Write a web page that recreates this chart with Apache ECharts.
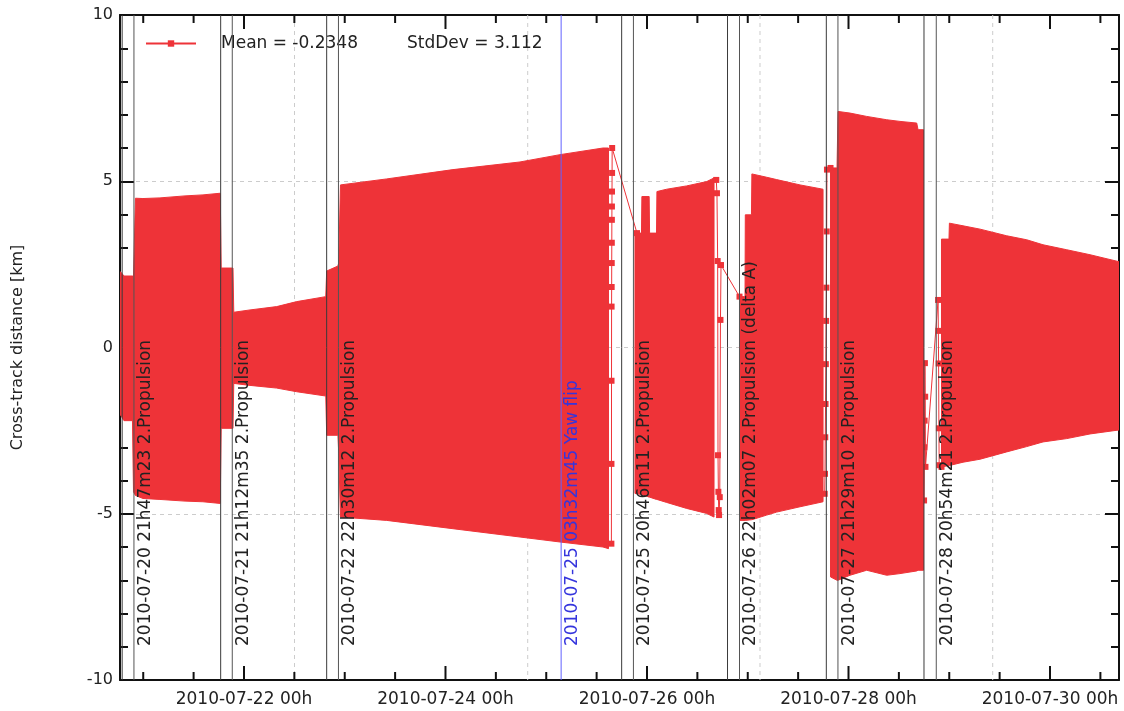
<!DOCTYPE html>
<html>
<head>
<meta charset="utf-8">
<title>Cross-track distance</title>
<script src="https://cdn.jsdelivr.net/npm/echarts@6/dist/echarts.min.js"></script>
<style>
  html, body { margin: 0; padding: 0; background: #ffffff; }
  #chart { width: 1124px; height: 711px; }
</style>
</head>
<body>
<div id="chart"></div>
<script>
// ---- data -----------------------------------------------------------------
const xRange = ['2010-07-20 18:28', '2010-07-30 16:26'];
const yRange = [-10, 10];
const yAxisName = 'Cross-track distance [km]';
const seriesName = 'Cross-track distance';
const meanValue = '-0.2348';
const stdDevValue = '3.112';

// Time axis ticks: labelled every two days, small ticks every 12 hours
const xMajorTicks = ['2010-07-22 00:00', '2010-07-24 00:00', '2010-07-26 00:00', '2010-07-28 00:00', '2010-07-30 00:00'];
const xMinorTicks = [
  '2010-07-21 00:00', '2010-07-21 12:00', '2010-07-22 12:00', '2010-07-23 00:00', '2010-07-23 12:00',
  '2010-07-24 12:00', '2010-07-25 00:00', '2010-07-25 12:00', '2010-07-26 12:00', '2010-07-27 00:00',
  '2010-07-27 12:00', '2010-07-28 12:00', '2010-07-29 00:00', '2010-07-29 12:00', '2010-07-30 12:00'
];

// Envelope of the densely sampled orbit oscillation: [time, upper km, lower km]
const arcJul20to25 = [
  ['2010-07-20 18:35', 2.28, -2.03], ['2010-07-20 19:25', 2.15, -2.20],
  ['2010-07-20 21:26', 2.15, -2.20], ['2010-07-20 21:41', 2.15, -4.34],
  ['2010-07-20 22:09', 4.49, -4.45], ['2010-07-20 23:56', 4.48, -4.54],
  ['2010-07-21 03:59', 4.50, -4.57], ['2010-07-21 09:57', 4.56, -4.62],
  ['2010-07-21 14:14', 4.59, -4.64], ['2010-07-21 18:21', 4.64, -4.69],
  ['2010-07-21 18:34', 2.39, -2.43], ['2010-07-21 21:23', 2.39, -2.43],
  ['2010-07-21 21:34', 1.06, -1.08], ['2010-07-22 01:26', 1.13, -1.14],
  ['2010-07-22 07:47', 1.23, -1.22], ['2010-07-22 12:33', 1.38, -1.33],
  ['2010-07-22 19:29', 1.53, -1.46], ['2010-07-22 19:42', 2.30, -2.64],
  ['2010-07-22 22:23', 2.45, -2.64], ['2010-07-22 22:34', 2.55, -3.18],
  ['2010-07-22 22:59', 4.89, -5.10], ['2010-07-23 09:59', 5.07, -5.20],
  ['2010-07-24 01:47', 5.35, -5.45], ['2010-07-24 17:45', 5.58, -5.70],
  ['2010-07-25 03:17', 5.80, -5.85], ['2010-07-25 13:31', 6.00, -6.00],
  ['2010-07-25 14:50', 6.00, -6.05]
];
const arcJul25to26 = [
  ['2010-07-25 21:08', 3.44, -4.39], ['2010-07-25 22:41', 3.44, -4.42],
  ['2010-07-25 22:47', 4.54, -4.42], ['2010-07-26 00:31', 4.54, -4.50],
  ['2010-07-26 00:37', 3.44, -4.50], ['2010-07-26 02:16', 3.44, -4.57],
  ['2010-07-26 02:22', 4.69, -4.57], ['2010-07-26 04:41', 4.76, -4.66],
  ['2010-07-26 09:27', 4.86, -4.84], ['2010-07-26 14:13', 4.99, -4.99],
  ['2010-07-26 15:58', 5.10, -5.10]
];
const arcJul26to27 = [
  ['2010-07-26 22:02', 1.53, -5.20], ['2010-07-26 23:21', 1.53, -5.20],
  ['2010-07-26 23:25', 3.99, -5.20], ['2010-07-27 00:53', 3.99, -5.18],
  ['2010-07-27 00:59', 5.22, -5.18], ['2010-07-27 04:31', 5.12, -5.04],
  ['2010-07-27 06:53', 5.05, -4.95], ['2010-07-27 12:27', 4.89, -4.79],
  ['2010-07-27 17:56', 4.76, -4.64]
];
const arcJul27to28 = [
  ['2010-07-27 19:43', 5.40, -6.90], ['2010-07-27 21:16', 5.40, -7.00],
  ['2010-07-27 21:30', 7.10, -7.00], ['2010-07-28 00:22', 7.05, -6.85],
  ['2010-07-28 04:20', 6.95, -6.70], ['2010-07-28 09:06', 6.85, -6.85],
  ['2010-07-28 12:16', 6.80, -6.80], ['2010-07-28 16:15', 6.75, -6.72],
  ['2010-07-28 16:34', 6.55, -6.70], ['2010-07-28 17:52', 6.55, -6.70]
];
const arcJul28to30 = [
  ['2010-07-28 22:09', 3.26, -3.59], ['2010-07-28 23:56', 3.26, -3.55],
  ['2010-07-29 00:02', 3.74, -3.55], ['2010-07-29 03:17', 3.66, -3.45],
  ['2010-07-29 07:20', 3.56, -3.36], ['2010-07-29 13:41', 3.36, -3.14],
  ['2010-07-29 18:27', 3.24, -2.98], ['2010-07-29 22:20', 3.09, -2.84],
  ['2010-07-30 03:59', 2.94, -2.74], ['2010-07-30 09:32', 2.79, -2.60],
  ['2010-07-30 16:26', 2.58, -2.48]
];
const bandArcs = [arcJul20to25, arcJul25to26, arcJul26to27, arcJul27to28, arcJul28to30];

// Sparse samples around the manoeuvres: [time, km]
const sparseJul25 = [
  ['2010-07-25 15:31', -5.9], ['2010-07-25 15:32', -3.5], ['2010-07-25 15:33', -1.0],
  ['2010-07-25 15:34', 1.23], ['2010-07-25 15:35', 1.82], ['2010-07-25 15:36', 2.54],
  ['2010-07-25 15:37', 3.15], ['2010-07-25 15:38', 3.84], ['2010-07-25 15:39', 4.24],
  ['2010-07-25 15:40', 4.69], ['2010-07-25 15:41', 5.25], ['2010-07-25 15:42', 6.0],
  ['2010-07-25 21:37', 3.44]
];
const sparseJul26 = [
  ['2010-07-26 16:30', 5.04], ['2010-07-26 16:40', 4.64], ['2010-07-26 16:50', 2.6],
  ['2010-07-26 16:55', -3.24], ['2010-07-26 17:00', -4.34], ['2010-07-26 17:05', -4.89],
  ['2010-07-26 17:10', -5.04], ['2010-07-26 17:20', -4.5], ['2010-07-26 17:30', 0.83],
  ['2010-07-26 17:38', 2.48], ['2010-07-26 22:02', 1.53]
];
const sparseJul27 = [
  ['2010-07-27 18:20', -4.4], ['2010-07-27 18:24', -3.8], ['2010-07-27 18:28', -2.7],
  ['2010-07-27 18:32', -1.7], ['2010-07-27 18:36', -0.5], ['2010-07-27 18:40', 0.8],
  ['2010-07-27 18:44', 1.8], ['2010-07-27 18:48', 3.49], ['2010-07-27 18:52', 5.35],
  ['2010-07-27 19:43', 5.4]
];
const sparseJul28 = [
  ['2010-07-28 18:00', -4.6], ['2010-07-28 18:04', -3.0], ['2010-07-28 18:08', -2.2],
  ['2010-07-28 18:12', -0.47], ['2010-07-28 18:16', -1.48], ['2010-07-28 18:20', -3.59],
  ['2010-07-28 21:20', 1.43], ['2010-07-28 21:24', 0.5], ['2010-07-28 21:28', -0.48],
  ['2010-07-28 21:32', -2.43], ['2010-07-28 21:36', -3.54], ['2010-07-28 22:09', -3.59]
];
const sparseRuns = [sparseJul25, sparseJul26, sparseJul27, sparseJul28];

const propulsionLabels = [
  '2010-07-20 21h47m23 2.Propulsion',
  '2010-07-21 21h12m35 2.Propulsion',
  '2010-07-22 22h30m12 2.Propulsion',
  '2010-07-25 20h46m11 2.Propulsion',
  '2010-07-26 22h02m07 2.Propulsion (delta A)',
  '2010-07-27 21h29m10 2.Propulsion',
  '2010-07-28 20h54m21 2.Propulsion'
];
const yawFlipLabel = '2010-07-25 03h32m45 Yaw flip';
const firstBurnTimes = [
  '2010-07-20 18:59', '2010-07-21 18:27', '2010-07-22 19:42', '2010-07-25 17:58',
  '2010-07-26 19:11', '2010-07-27 18:43', '2010-07-28 17:59'
];
const verticalGridTimes = ['2010-07-22 12:02', '2010-07-24 19:35', '2010-07-27 02:55', '2010-07-29 10:21'];

// ---- helpers ----------------------------------------------------------------
function ms(s) {
  const m = s.match(/(\d+)-(\d+)-(\d+)\s+(\d+)[:h](\d+)(?:[:m](\d+))?/);
  return Date.UTC(+m[1], +m[2] - 1, +m[3], +m[4], +m[5], +(m[6] || 0));
}
function pad(n) { return (n < 10 ? '0' : '') + n; }
function dateLabel(v) {
  const d = new Date(v);
  return d.getUTCFullYear() + '-' + pad(d.getUTCMonth() + 1) + '-' + pad(d.getUTCDate()) + ' ' + pad(d.getUTCHours()) + 'h';
}

const RED = '#EE3338';
const AXIS = '#111111';
const FONT = 'DejaVu Sans';
const MAJOR_LEN = 14;
const MINOR_LEN = 8;

const eventItems = [];
firstBurnTimes.forEach(t => eventItems.push({ t: ms(t), label: '', line: '#3a3a3a', text: '#222' }));
propulsionLabels.forEach(l => eventItems.push({ t: ms(l), label: l, line: '#555555', text: '#222' }));
eventItems.push({ t: ms(yawFlipLabel), label: yawFlipLabel, line: '#6262ff', text: '#3535dd' });

const tickItems = xMajorTicks.map(t => ({ t: ms(t), major: true }))
  .concat(xMinorTicks.map(t => ({ t: ms(t), major: false })));

// ---- chart ------------------------------------------------------------------
const chart = echarts.init(document.getElementById('chart'), null, { renderer: 'canvas' });

function xAxisBase(extra) {
  return Object.assign({
    type: 'value',
    min: ms(xRange[0]),
    max: ms(xRange[1]),
    axisLine: { show: true, onZero: false, lineStyle: { color: AXIS, width: 2 } },
    axisTick: { show: false },
    minorTick: { show: false },
    axisLabel: { show: false },
    splitLine: { show: false },
    minorSplitLine: { show: false }
  }, extra);
}
function yAxisBase(extra) {
  return Object.assign({
    type: 'value',
    min: yRange[0],
    max: yRange[1],
    interval: 5,
    axisLine: { show: true, onZero: false, lineStyle: { color: AXIS, width: 2 } },
    axisTick: { show: true, inside: true, length: MAJOR_LEN, lineStyle: { color: AXIS, width: 2 } },
    minorTick: { show: true, splitNumber: 5, length: MINOR_LEN, lineStyle: { color: AXIS, width: 2 } },
    minorSplitLine: { show: false }
  }, extra);
}

const sparseSeries = sparseRuns.map(run => ({
  name: seriesName,
  type: 'line',
  data: run.map(p => [ms(p[0]), p[1]]),
  symbol: 'rect',
  symbolSize: 6,
  showAllSymbol: true,
  lineStyle: { color: RED, width: 1 },
  itemStyle: { color: RED },
  z: 3,
  silent: true,
  animation: false
}));

chart.setOption({
  animation: false,
  textStyle: { fontFamily: FONT },
  grid: { left: 120, right: 5, top: 15, bottom: 31, containLabel: false },
  legend: {
    data: [{ name: seriesName }],
    left: 145,
    top: 35,
    padding: 0,
    itemWidth: 50,
    itemHeight: 8,
    formatter: () => '{g| }{m|Mean = ' + meanValue + '}{s|StdDev = ' + stdDevValue + '}',
    textStyle: {
      fontFamily: FONT,
      fontSize: 17,
      color: '#222',
      rich: {
        g: { width: 20, fontSize: 17, fontFamily: FONT },
        m: { width: 186, fontSize: 17, fontFamily: FONT, color: '#222' },
        s: { fontSize: 17, fontFamily: FONT, color: '#222' }
      }
    }
  },
  xAxis: [
    xAxisBase({ position: 'bottom' }),
    xAxisBase({ position: 'top' })
  ],
  yAxis: [
    yAxisBase({
      position: 'left',
      name: yAxisName,
      nameLocation: 'middle',
      nameRotate: 90,
      nameGap: 94,
      nameTextStyle: { fontSize: 16, color: '#222', fontFamily: FONT },
      axisLabel: { fontSize: 16, color: '#222', margin: 7, fontFamily: FONT },
      splitLine: { show: true, lineStyle: { color: '#cccccc', type: [4, 4], width: 1 } }
    }),
    yAxisBase({ position: 'right', axisLabel: { show: false }, splitLine: { show: false } })
  ],
  series: [
    {
      // dashed time grid lines behind the data
      type: 'custom',
      silent: true,
      z: 1,
      data: verticalGridTimes.map(t => [ms(t), 0]),
      encode: { x: 0, y: 1 },
      renderItem(params, api) {
        const x = api.coord([api.value(0), 0])[0];
        const y1 = api.coord([api.value(0), yRange[1]])[1];
        const y2 = api.coord([api.value(0), yRange[0]])[1];
        return {
          type: 'line',
          shape: { x1: x, y1: y1, x2: x, y2: y2 },
          style: { stroke: '#cccccc', lineWidth: 1, lineDash: [4, 4] }
        };
      }
    },
    {
      // filled envelope of the oscillating cross-track distance
      type: 'custom',
      silent: true,
      clip: true,
      z: 2,
      data: bandArcs.map(a => [ms(a[0][0]), a[0][1]]),
      encode: { x: 0, y: 1 },
      renderItem(params, api) {
        const arc = bandArcs[params.dataIndex];
        const upper = arc.map(p => api.coord([ms(p[0]), p[1]]));
        const lower = arc.slice().reverse().map(p => api.coord([ms(p[0]), p[2]]));
        return {
          type: 'polygon',
          shape: { points: upper.concat(lower) },
          style: { fill: RED, stroke: RED, lineWidth: 1 }
        };
      }
    },
    ...sparseSeries,
    {
      // manoeuvre markers with their rotated labels
      type: 'custom',
      silent: true,
      z: 4,
      data: eventItems.map(e => [e.t, 0]),
      encode: { x: 0, y: 1 },
      renderItem(params, api) {
        const ev = eventItems[params.dataIndex];
        const x = api.coord([ev.t, 0])[0];
        const yTop = api.coord([ev.t, yRange[1]])[1];
        const yBottom = api.coord([ev.t, yRange[0]])[1];
        const children = [{
          type: 'line',
          shape: { x1: x, y1: yTop, x2: x, y2: yBottom },
          style: { stroke: ev.line, lineWidth: 1 }
        }];
        if (ev.label) {
          children.push({
            type: 'text',
            x: x + 3,
            y: yBottom - 34,
            rotation: Math.PI / 2,
            style: {
              text: ev.label, fill: ev.text, fontSize: 17, fontFamily: FONT,
              align: 'left', verticalAlign: 'top'
            }
          });
        }
        return { type: 'group', children: children };
      }
    },
    {
      // time axis ticks (bottom and top edges) and the bottom date labels
      type: 'custom',
      silent: true,
      z: 5,
      data: tickItems.map(k => [k.t, 0]),
      encode: { x: 0, y: 1 },
      renderItem(params, api) {
        const k = tickItems[params.dataIndex];
        const x = api.coord([k.t, 0])[0];
        const yTop = api.coord([k.t, yRange[1]])[1];
        const yBottom = api.coord([k.t, yRange[0]])[1];
        const len = k.major ? MAJOR_LEN : MINOR_LEN;
        const tickStyle = { stroke: AXIS, lineWidth: 2 };
        const children = [
          { type: 'line', shape: { x1: x, y1: yBottom, x2: x, y2: yBottom - len }, style: tickStyle },
          { type: 'line', shape: { x1: x, y1: yTop, x2: x, y2: yTop + len }, style: tickStyle }
        ];
        if (k.major) {
          children.push({
            type: 'text',
            x: x,
            y: yBottom + 11,
            style: {
              text: dateLabel(k.t), fill: '#222', fontSize: 17, fontFamily: FONT,
              align: 'center', verticalAlign: 'top'
            }
          });
        }
        return { type: 'group', children: children };
      }
    }
  ]
});
</script>
</body>
</html>
